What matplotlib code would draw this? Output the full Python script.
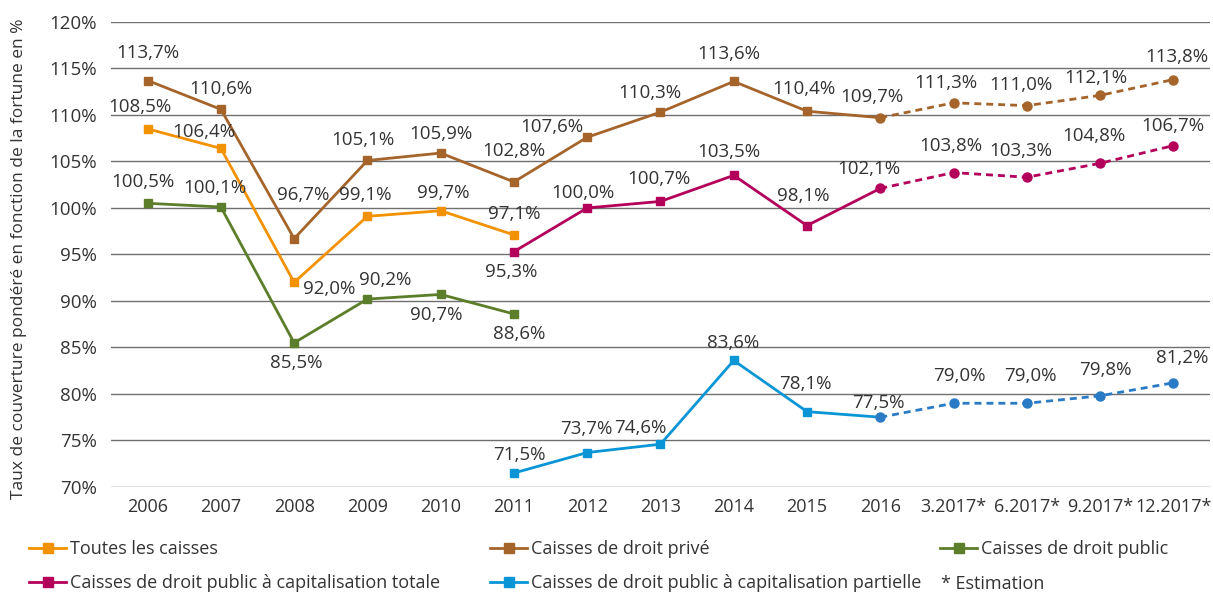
import numpy as np
import matplotlib
matplotlib.use("Agg")
import matplotlib.pyplot as plt
from matplotlib.lines import Line2D

plt.rcParams['font.family'] = ['Open Sans', 'DejaVu Sans']

categories = ['2006', '2007', '2008', '2009', '2010', '2011', '2012', '2013', '2014',
              '2015', '2016', '3.2017*', '6.2017*', '9.2017*', '12.2017*']
nan = np.nan
toutes = [108.5, 106.4, 92.0, 99.1, 99.7, 97.1, nan, nan, nan, nan, nan, nan, nan, nan, nan]
prive = [113.7, 110.6, 96.7, 105.1, 105.9, 102.8, 107.6, 110.3, 113.6, 110.4, 109.7,
         111.3, 111.0, 112.1, 113.8]
public = [100.5, 100.1, 85.5, 90.2, 90.7, 88.6, nan, nan, nan, nan, nan, nan, nan, nan, nan]
totale = [nan, nan, nan, nan, nan, 95.3, 100.0, 100.7, 103.5, 98.1, 102.1,
          103.8, 103.3, 104.8, 106.7]
partielle = [nan, nan, nan, nan, nan, 71.5, 73.7, 74.6, 83.6, 78.1, 77.5,
             79.0, 79.0, 79.8, 81.2]

yticks = [70, 75, 80, 85, 90, 95, 100, 105, 110, 115, 120]
names = ['Toutes les caisses', 'Caisses de droit privé', 'Caisses de droit public',
         'Caisses de droit public à capitalisation totale',
         'Caisses de droit public à capitalisation partielle']
colors = ['#F39200', '#A5642A', '#5C7D29', '#B3005B', '#0A96D6']
est_colors = ['#F39200', '#A5642A', '#5C7D29', '#B3005B', '#2A7BC6']

# label offsets in pixels (dx right, dy down)
offs = {
    0: [(-8, -22), (-17, -16), (35, 7), (-2, -21), (3, -18), (0, -21)],
    1: [(0, -28), (0, -20), (9, -44), (-4, -20), (0, -19), (0, -31), (-35, -10), (-11, -19),
        (-5, -27), (-3, -22), (-8, -21), (-8, -20), (-6, -21), (-4, -17), (4, -23)],
    2: [(-5, -21), (-6, -19), (2, 20), (18, -19), (-4, 21), (5, 20)],
    3: [(-3, 20), (-4, -15), (-2, -22), (-5, -23), (-4, -30), (-11, -19), (-3, -27),
        (-6, -26), (-6, -27), (0, -20)],
    4: [(5, -18), (-1, -24), (-20, -16), (-1, -17), (-2, -28), (-2, -14), (6, -27),
        (4, -27), (5, -26), (9, -25)],
}

fig = plt.figure(figsize=(12.13, 5.92), dpi=100)
ax = fig.add_axes([0.0915, 0.1774, 0.906, 0.7856])
x = np.arange(len(categories))
series = [toutes, prive, public, totale, partielle]
txtc = '#333333'

for i, s in enumerate(series):
    s = np.array(s, dtype=float)
    c = colors[i]
    solid = s.copy()
    solid[11:] = nan
    ax.plot(x, solid, color=c, lw=2.0, zorder=3, solid_capstyle='round')
    sq = s.copy()
    sq[10:] = nan
    ax.plot(x, sq, ls='none', marker='s', ms=6, color=c, zorder=4)
    est = s.copy()
    est[:10] = nan
    ax.plot(x, est, color=est_colors[i], lw=2.0, ls=(0, (2.5, 1.8)), marker='o', ms=6.5,
            mfc=est_colors[i], mec=est_colors[i], zorder=4)
    valid = [k for k in range(len(s)) if not np.isnan(s[k])]
    for j, k in enumerate(valid):
        dx, dy = offs[i][j]
        lab = f"{s[k]:.1f}%".replace('.', ',')
        ax.annotate(lab, (x[k], s[k]), xytext=(dx, -dy), textcoords='offset pixels',
                    ha='center', va='center', fontsize=13.5, color=txtc, zorder=5)

ax.set_xlim(-0.5, len(categories) - 0.5)
ax.set_ylim(70, 120)
ax.set_yticks(yticks)
ax.set_yticklabels([f"{t}%" for t in yticks])
ax.set_xticks(x)
ax.set_xticklabels(categories)
ax.tick_params(axis='both', length=0, colors=txtc)
ax.tick_params(axis='y', pad=10, labelsize=13.5)
ax.tick_params(axis='x', pad=8, labelsize=13)
for sp in ax.spines.values():
    sp.set_visible(False)
for t in yticks:
    ax.axhline(t, color='#707070', lw=1, zorder=1)
ax.set_ylabel('Taux de couverture pondéré en fonction de la fortune en %', fontsize=12.5,
              color=txtc)
ax.yaxis.set_label_coords(-0.076, 0.49)

def handle(c):
    return Line2D([], [], color=c, lw=2.0, marker='s', ms=6.5)

legpos = [(29, [0, 3]), (490, [1, 4]), (940, [2])]
W, H = 1213, 592
for xp, idxs in legpos:
    hs = [handle(colors[k]) for k in idxs]
    ls = [names[k] for k in idxs]
    fig.legend(hs, ls, loc='upper left', bbox_to_anchor=(xp / W, 1 - 540 / H),
               frameon=False, fontsize=13, handlelength=2.05, handletextpad=0.2,
               labelspacing=0.88, borderaxespad=0, borderpad=0, labelcolor=txtc)
fig.text(941 / W, 1 - 584 / H, '* Estimation', fontsize=13, color=txtc, va='center', ha='left')

fig.savefig('out.png', dpi=100)
